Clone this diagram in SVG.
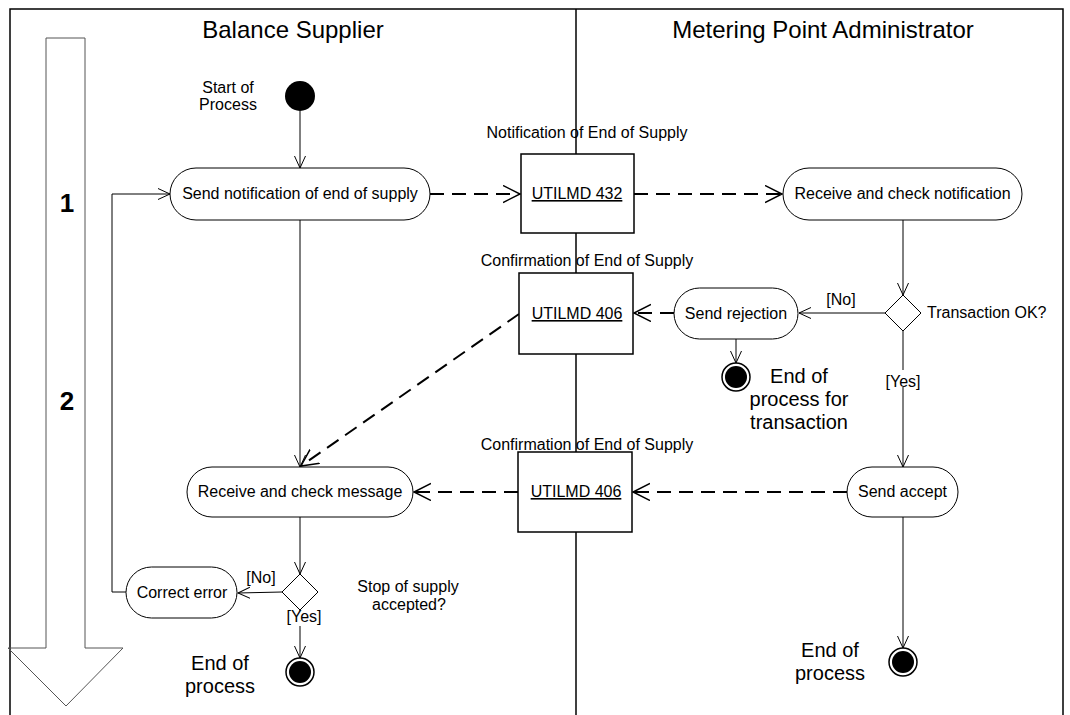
<svg xmlns="http://www.w3.org/2000/svg" width="1070" height="715" viewBox="0 0 1070 715">
<style>
text{font-family:"Liberation Sans",Arial,sans-serif;fill:#000}
.t16{font-size:16px}
.mid{text-anchor:middle}
.big{font-size:20px}
.title{font-size:24px}
.node{fill:#fff;stroke:#000;stroke-width:1}
.box{fill:#fff;stroke:#000;stroke-width:1.5}
.flow{fill:none;stroke:#000;stroke-width:1}
.msg{fill:none;stroke:#000;stroke-width:2;stroke-dasharray:14 8}
.lbl{fill:#fff;stroke:none}
</style>
<defs>
<marker id="ah" markerUnits="userSpaceOnUse" markerWidth="14" markerHeight="13" refX="12" refY="6" orient="auto" viewBox="0 0 14 13">
<path d="M0,0.5 L12,6 L0,11.5" fill="none" stroke="#000" stroke-width="1"/>
</marker>
<marker id="ahd" markerUnits="userSpaceOnUse" markerWidth="20" markerHeight="20" refX="17" refY="9" orient="auto" viewBox="0 0 20 20">
<path d="M0,0.5 L17,9 L0,17.5" fill="none" stroke="#000" stroke-width="1.5"/>
</marker>
</defs>
<rect width="1070" height="715" fill="#fff"/>
<g id="frame">
<path d="M10,715 V9 H1063 V715" fill="none" stroke="#000" stroke-width="1.5"/>
<line x1="576" y1="9" x2="576" y2="715" stroke="#000" stroke-width="1.5"/>
<text class="title mid" x="293" y="38">Balance Supplier</text>
<text class="title mid" x="823" y="38">Metering Point Administrator</text>
</g>
<g id="phase-arrow">
<path d="M46,648 V38 H85 V648 H123 L66,706 L8,648 Z" fill="none" stroke="#555" stroke-width="1"/>
<text x="67" y="212" class="mid" style="font-size:26px;font-weight:bold">1</text>
<text x="67" y="410" class="mid" style="font-size:26px;font-weight:bold">2</text>
</g>
<g id="connectors">
<line class="flow" x1="300" y1="111" x2="300" y2="168" marker-end="url(#ah)"/>
<polyline class="flow" points="126,592 112,592 112,194 170,194" marker-end="url(#ah)"/>
<line class="msg" x1="430" y1="194" x2="520" y2="194" marker-end="url(#ahd)"/>
<line class="msg" x1="634" y1="194" x2="782" y2="194" marker-end="url(#ahd)"/>
<line class="flow" x1="903" y1="220" x2="903" y2="295" marker-end="url(#ah)"/>
<line class="flow" x1="885" y1="313" x2="799" y2="313" marker-end="url(#ah)"/>
<line class="msg" x1="674" y1="313" x2="634" y2="313" marker-end="url(#ahd)"/>
<line class="flow" x1="736" y1="339" x2="736" y2="363" marker-end="url(#ah)"/>
<line class="flow" x1="903" y1="331" x2="903" y2="467" marker-end="url(#ah)"/>
<line class="flow" x1="300" y1="220" x2="300" y2="467" marker-end="url(#ah)"/>
<line class="msg" x1="519" y1="314" x2="301" y2="466" marker-end="url(#ahd)"/>
<line class="msg" x1="847" y1="492" x2="633" y2="492" marker-end="url(#ahd)"/>
<line class="msg" x1="518" y1="492" x2="414" y2="492" marker-end="url(#ahd)"/>
<line class="flow" x1="903" y1="517" x2="903" y2="648" marker-end="url(#ah)"/>
<line class="flow" x1="300" y1="517" x2="300" y2="574" marker-end="url(#ah)"/>
<line class="flow" x1="282" y1="592" x2="238" y2="593" marker-end="url(#ah)"/>
<line class="flow" x1="300" y1="610" x2="300" y2="658" marker-end="url(#ah)"/>
<rect class="lbl" x="886" y="370" width="34" height="17"/>
<text class="t16 mid" x="903" y="387">[Yes]</text>
<text class="t16 mid" x="841" y="305">[No]</text>
<rect class="lbl" x="286" y="611" width="36" height="15"/>
<text class="t16 mid" x="304" y="622">[Yes]</text>
<text class="t16 mid" x="261" y="583">[No]</text>
</g>
<g id="start">
<circle cx="300" cy="96" r="15" fill="#000"/>
<text class="t16 mid" x="228" y="93">Start of</text>
<text class="t16 mid" x="228" y="110">Process</text>
</g>
<g id="send-notification">
<rect class="node" x="170" y="168" width="260" height="52" rx="26"/>
<text class="t16 mid" x="300" y="199">Send notification of end of supply</text>
</g>
<g id="utilmd432">
<rect class="box" x="521" y="154" width="113" height="79"/>
<text class="t16 mid" x="577" y="199" text-decoration="underline">UTILMD 432</text>
<text class="t16 mid" x="587" y="138">Notification of End of Supply</text>
</g>
<g id="receive-notification">
<rect class="node" x="783" y="168" width="239" height="52" rx="26"/>
<text class="t16 mid" x="902.5" y="199">Receive and check notification</text>
</g>
<g id="decision-transaction">
<polygon class="node" points="903,295 921,313 903,331 885,313"/>
<text class="t16" x="927" y="318">Transaction OK?</text>
</g>
<g id="send-rejection">
<rect class="node" x="674" y="288" width="124" height="51" rx="25.5"/>
<text class="t16 mid" x="736" y="319">Send rejection</text>
</g>
<g id="utilmd406a">
<rect class="box" x="519" y="273" width="114" height="81"/>
<text class="t16 mid" x="577" y="319" text-decoration="underline">UTILMD 406</text>
<text class="t16 mid" x="587" y="266">Confirmation of End of Supply</text>
</g>
<g id="end-transaction">
<circle cx="736" cy="377" r="14" fill="#fff" stroke="#000" stroke-width="1.5"/>
<circle cx="736" cy="377" r="11" fill="#000"/>
<text class="big mid" x="799" y="383">End of</text>
<text class="big mid" x="799" y="406">process for</text>
<text class="big mid" x="799" y="429">transaction</text>
</g>
<g id="send-accept">
<rect class="node" x="847" y="467" width="111" height="50" rx="25"/>
<text class="t16 mid" x="902.5" y="497">Send accept</text>
</g>
<g id="utilmd406b">
<rect class="box" x="518" y="452" width="114" height="80"/>
<text class="t16 mid" x="576" y="497" text-decoration="underline">UTILMD 406</text>
<text class="t16 mid" x="587" y="450">Confirmation of End of Supply</text>
</g>
<g id="receive-message">
<rect class="node" x="187" y="467" width="226" height="50" rx="25"/>
<text class="t16 mid" x="300" y="497">Receive and check message</text>
</g>
<g id="decision-stop">
<polygon class="node" points="300,574 318,592 300,610 282,592"/>
<text class="t16 mid" x="408" y="592">Stop of supply</text>
<text class="t16 mid" x="409" y="610">accepted?</text>
</g>
<g id="correct-error">
<rect class="node" x="126" y="567" width="111" height="51" rx="25.5"/>
<text class="t16 mid" x="182" y="598">Correct error</text>
</g>
<g id="end-left">
<circle cx="300" cy="672" r="14" fill="#fff" stroke="#000" stroke-width="1.5"/>
<circle cx="300" cy="672" r="11" fill="#000"/>
<text class="big mid" x="220" y="670">End of</text>
<text class="big mid" x="220" y="693">process</text>
</g>
<g id="end-right">
<circle cx="903" cy="662" r="14" fill="#fff" stroke="#000" stroke-width="1.5"/>
<circle cx="903" cy="662" r="11" fill="#000"/>
<text class="big mid" x="830" y="657">End of</text>
<text class="big mid" x="830" y="680">process</text>
</g>
</svg>
